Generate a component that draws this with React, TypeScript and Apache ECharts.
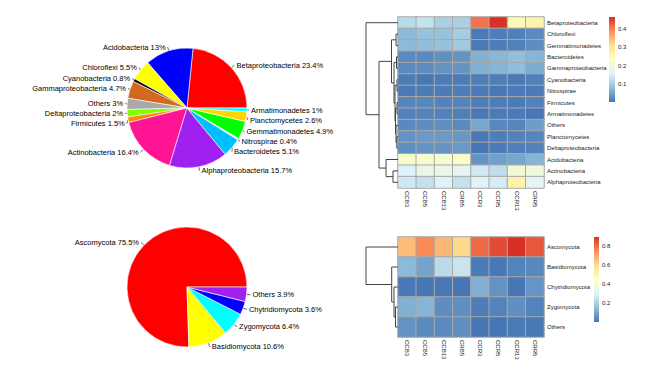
import React, { useEffect, useRef } from "react";
import * as echarts from "echarts";

// ---------- Pie data ----------
const bacteriaNames = [
  "Betaproteobacteria", "Acidobacteria", "Chloroflexi", "Cyanobacteria", "Gammaproteobacteria",
  "Others", "Deltaproteobacteria", "Firmicutes", "Actinobacteria", "Alphaproteobacteria",
  "Bacteroidetes", "Nitrospirae", "Gemmatimonadetes", "Planctomycetes", "Armatimonadetes",
];
const bacteriaPct = [23.4, 13, 5.5, 0.8, 4.7, 3, 2, 1.5, 16.4, 15.7, 5.1, 0.4, 4.9, 2.6, 1];
const bacteriaColors = [
  "#FF0000", "#0000FF", "#FFFF00", "#000000", "#D2691E", "#A9A9A9", "#7FFF00", "#FF8C00",
  "#FF1493", "#A020F0", "#00BFFF", "#E6E6E6", "#00FF00", "#FFD700", "#00FFFF",
];

const fungiNames = ["Ascomycota", "Basidiomycota", "Zygomycota", "Chytridiomycota", "Others"];
const fungiPct = [75.5, 10.6, 6.4, 3.6, 3.9];
const fungiColors = ["#FF0000", "#FFFF00", "#00FFFF", "#0000FF", "#A020F0"];

// ---------- Heatmap data ----------
const samples = ["CCB3", "CCB5", "CCB13", "CRB5", "CCR3", "CCR5", "CCR13", "CRR5"];

const bacteriaRows = [
  "Betaproteobacteria", "Chloroflexi", "Gemmatimonadetes", "Bacteroidetes", "Gammaproteobacteria",
  "Cyanobacteria", "Nitrospirae", "Firmicutes", "Armatimonadetes", "Others", "Planctomycetes",
  "Deltaproteobacteria", "Acidobacteria", "Actinobacteria", "Alphaproteobacteria",
];
const bacteriaMatrix = [
  [0.12, 0.13, 0.105, 0.105, 0.41, 0.465, 0.25, 0.262],
  [0.075, 0.085, 0.085, 0.1, 0.008, 0.012, 0.015, 0.025],
  [0.075, 0.08, 0.085, 0.095, 0.008, 0.012, 0.016, 0.028],
  [0.025, 0.025, 0.03, 0.035, 0.065, 0.072, 0.082, 0.07],
  [0.025, 0.028, 0.033, 0.035, 0.065, 0.07, 0.08, 0.06],
  [0.01, 0.005, 0.01, 0.01, 0.012, 0.012, 0.008, 0.014],
  [0.008, 0.01, 0.01, 0.012, 0.008, 0.006, 0.008, 0.008],
  [0.02, 0.022, 0.018, 0.02, 0.012, 0.012, 0.01, 0.016],
  [0.016, 0.018, 0.016, 0.014, 0.006, 0.01, 0.008, 0.005],
  [0.024, 0.028, 0.03, 0.025, 0.055, 0.022, 0.02, 0.045],
  [0.035, 0.04, 0.04, 0.038, 0.006, 0.012, 0.016, 0.02],
  [0.03, 0.035, 0.035, 0.04, 0.003, 0.01, 0.014, 0.016],
  [0.215, 0.215, 0.212, 0.222, 0.035, 0.048, 0.055, 0.07],
  [0.155, 0.18, 0.18, 0.17, 0.14, 0.125, 0.2, 0.195],
  [0.14, 0.13, 0.155, 0.13, 0.16, 0.148, 0.265, 0.165],
];
const bacteriaMin = 0.003;
const bacteriaMax = 0.465;
const bacteriaTicks = [0.1, 0.2, 0.3, 0.4];

const fungiRows = ["Ascomycota", "Basidiomycota", "Chytridiomycota", "Zygomycota", "Others"];
const fungiMatrix = [
  [0.66, 0.75, 0.67, 0.61, 0.8, 0.85, 0.893, 0.83],
  [0.14, 0.095, 0.23, 0.255, 0.012, 0.008, 0.03, 0.04],
  [0.01, 0.006, 0.008, 0.006, 0.12, 0.06, 0.006, 0.065],
  [0.12, 0.13, 0.05, 0.055, 0.02, 0.03, 0.055, 0.03],
  [0.06, 0.045, 0.045, 0.055, 0.006, 0.002, 0.012, 0.008],
];
const fungiMin = 0.002;
const fungiMax = 0.893;
const fungiTicks = [0.2, 0.4, 0.6, 0.8];

// ---------- Dendrograms (hclust-style merges: negative = leaf row, positive = earlier merge) ----------
const bacteriaMerge = [
  [-2, -3], [-4, -5], [-6, -7], [-8, -9], [-11, -12], [-10, 5], [4, 6],
  [3, 7], [2, 8], [1, 9], [-14, -15], [-13, 11], [10, 12], [-1, 13],
];
const bacteriaHeight = [2, 1.5, 1, 1, 1.2, 2, 2.5, 3, 4, 6.5, 5, 12, 19, 32];

const fungiMerge = [[-4, -5], [-3, 1], [-2, 2], [-1, 3]];
const fungiHeight = [2.5, 4, 6.3, 32];

const palette = ["#4575B4", "#91BFDB", "#E0F3F8", "#FFFFBF", "#FEE090", "#FC8D59", "#D73027"];
const FONT = "'Liberation Sans', Arial, sans-serif";

function dendroSegments(merge: number[][], height: number[]) {
  const pos: number[] = [];
  const hs: number[] = [];
  const gp = (k: number) => (k < 0 ? -k - 1 : pos[k - 1]);
  const gh = (k: number) => (k < 0 ? 0 : hs[k - 1]);
  return merge.map(([a, b], i) => {
    const pa = gp(a), pb = gp(b);
    const seg = [pa, pb, gh(a), gh(b), height[i]];
    pos.push((pa + pb) / 2);
    hs.push(height[i]);
    return seg;
  });
}

function pieSeries(names: string[], vals: number[], colors: string[], center: number[]) {
  return {
    type: "pie",
    center,
    radius: 60,
    startAngle: 0,
    clockwise: false,
    avoidLabelOverlap: true,
    minShowLabelAngle: 0,
    labelLayout: { hideOverlap: false },
    silent: true,
    emphasis: { disabled: true },
    itemStyle: { borderColor: "#ffffff", borderWidth: 0.6 },
    label: {
      show: true,
      position: "outside",
      fontSize: 7.5,
      lineHeight: 8,
      fontFamily: FONT,
      color: "#000",
      distanceToLabelLine: 2,
      formatter: (p: any) => `${p.name} ${p.value}%`,
    },
    labelLine: { show: true, length: 4, length2: 0, lineStyle: { color: "#444", width: 0.8 } },
    data: names.map((n, i) => ({ name: n, value: vals[i], itemStyle: { color: colors[i] } })),
  };
}

function dendroRender(params: any, api: any) {
  const pa = api.value(0), pb = api.value(1), ha = api.value(2), hb = api.value(3), hh = api.value(4);
  const pts = [api.coord([ha, pa]), api.coord([hh, pa]), api.coord([hh, pb]), api.coord([hb, pb])];
  return { type: "polyline", shape: { points: pts }, style: { stroke: "#444", lineWidth: 1, fill: null } };
}

function colorbarRender(vmin: number, vmax: number) {
  return (params: any, api: any) => {
    const p0 = api.coord([0, vmax]);
    const p1 = api.coord([1, vmin]);
    return {
      type: "rect",
      shape: { x: p0[0], y: p0[1], width: p1[0] - p0[0], height: p1[1] - p0[1] },
      style: {
        fill: {
          type: "linear", x: 0, y: 1, x2: 0, y2: 0,
          colorStops: palette.map((c, i) => ({ offset: i / (palette.length - 1), color: c })),
        },
      },
    };
  };
}

const labelStyle = { fontSize: 6, fontFamily: FONT, color: "#222" };

export default function App() {
  const ref = useRef<HTMLDivElement>(null);
  useEffect(() => {
    if (!ref.current) return;
    const chart = echarts.init(ref.current, undefined, { renderer: "svg" });
    const hidden = { show: false };
    const grids = [
      { left: 398, top: 17, width: 146, height: 171 },
      { left: 366, top: 17, width: 32, height: 171 },
      { left: 609, top: 17, width: 6, height: 85 },
      { left: 398, top: 237, width: 146, height: 100 },
      { left: 366, top: 237, width: 32, height: 100 },
      { left: 594, top: 237, width: 5, height: 85 },
    ].map((g) => ({ ...g, containLabel: false, outerBoundsMode: "none" }));

    const heatX = (gi: number) => ({
      type: "category", gridIndex: gi, data: samples, position: "bottom",
      axisLine: hidden, axisTick: hidden, splitLine: hidden,
      axisLabel: { ...labelStyle, rotate: -90, margin: 3, interval: 0 },
    });
    const heatY = (gi: number, rows: string[]) => ({
      type: "category", gridIndex: gi, data: rows, inverse: true, position: "right",
      axisLine: hidden, axisTick: hidden, splitLine: hidden,
      axisLabel: { ...labelStyle, margin: 3, interval: 0 },
    });
    const dendX = (gi: number) => ({ type: "value", gridIndex: gi, min: 0, max: 32, inverse: true, show: false });
    const dendY = (gi: number, n: number) => ({ type: "value", gridIndex: gi, min: -0.5, max: n - 0.5, inverse: true, show: false });
    const cbX = (gi: number) => ({ type: "value", gridIndex: gi, min: 0, max: 1, show: false });
    const cbY = (gi: number, vmin: number, vmax: number, ticks: number[]) => ({
      type: "value", gridIndex: gi, min: vmin, max: vmax, position: "right",
      axisLine: hidden, axisTick: hidden, splitLine: hidden,
      axisLabel: { ...labelStyle, margin: 3, customValues: ticks, formatter: (v: number) => String(v) },
    });

    const toCells = (m: number[][]) => m.flatMap((row, r) => row.map((v, c) => [c, r, v]));

    chart.setOption({
      animation: false,
      backgroundColor: "#ffffff",
      grid: grids,
      xAxis: [heatX(0), dendX(1), cbX(2), heatX(3), dendX(4), cbX(5)],
      yAxis: [
        heatY(0, bacteriaRows), dendY(1, bacteriaRows.length), cbY(2, bacteriaMin, bacteriaMax, bacteriaTicks),
        heatY(3, fungiRows), dendY(4, fungiRows.length), cbY(5, fungiMin, fungiMax, fungiTicks),
      ],
      visualMap: [
        { type: "continuous", show: false, seriesIndex: 2, min: bacteriaMin, max: bacteriaMax, inRange: { color: palette } },
        { type: "continuous", show: false, seriesIndex: 5, min: fungiMin, max: fungiMax, inRange: { color: palette } },
      ],
      series: [
        pieSeries(bacteriaNames, bacteriaPct, bacteriaColors, [187, 108]),
        pieSeries(fungiNames, fungiPct, fungiColors, [187, 287]),
        {
          type: "heatmap", xAxisIndex: 0, yAxisIndex: 0, data: toCells(bacteriaMatrix), silent: true,
          emphasis: { disabled: true }, itemStyle: { borderColor: "#A8A8A8", borderWidth: 1 },
        },
        {
          type: "custom", xAxisIndex: 1, yAxisIndex: 1, silent: true, renderItem: dendroRender,
          data: dendroSegments(bacteriaMerge, bacteriaHeight), clip: false,
        },
        {
          type: "custom", xAxisIndex: 2, yAxisIndex: 2, silent: true,
          renderItem: colorbarRender(bacteriaMin, bacteriaMax), data: [[0, bacteriaMin]], clip: false,
        },
        {
          type: "heatmap", xAxisIndex: 3, yAxisIndex: 3, data: toCells(fungiMatrix), silent: true,
          emphasis: { disabled: true }, itemStyle: { borderColor: "#A8A8A8", borderWidth: 1 },
        },
        {
          type: "custom", xAxisIndex: 4, yAxisIndex: 4, silent: true, renderItem: dendroRender,
          data: dendroSegments(fungiMerge, fungiHeight), clip: false,
        },
        {
          type: "custom", xAxisIndex: 5, yAxisIndex: 5, silent: true,
          renderItem: colorbarRender(fungiMin, fungiMax), data: [[0, fungiMin]], clip: false,
        },
      ],
    });
    return () => chart.dispose();
  }, []);
  return (
    <div
      ref={ref}
      style={{ position: "fixed", left: 0, top: 0, width: 648, height: 386, background: "#fff" }}
    />
  );
}
